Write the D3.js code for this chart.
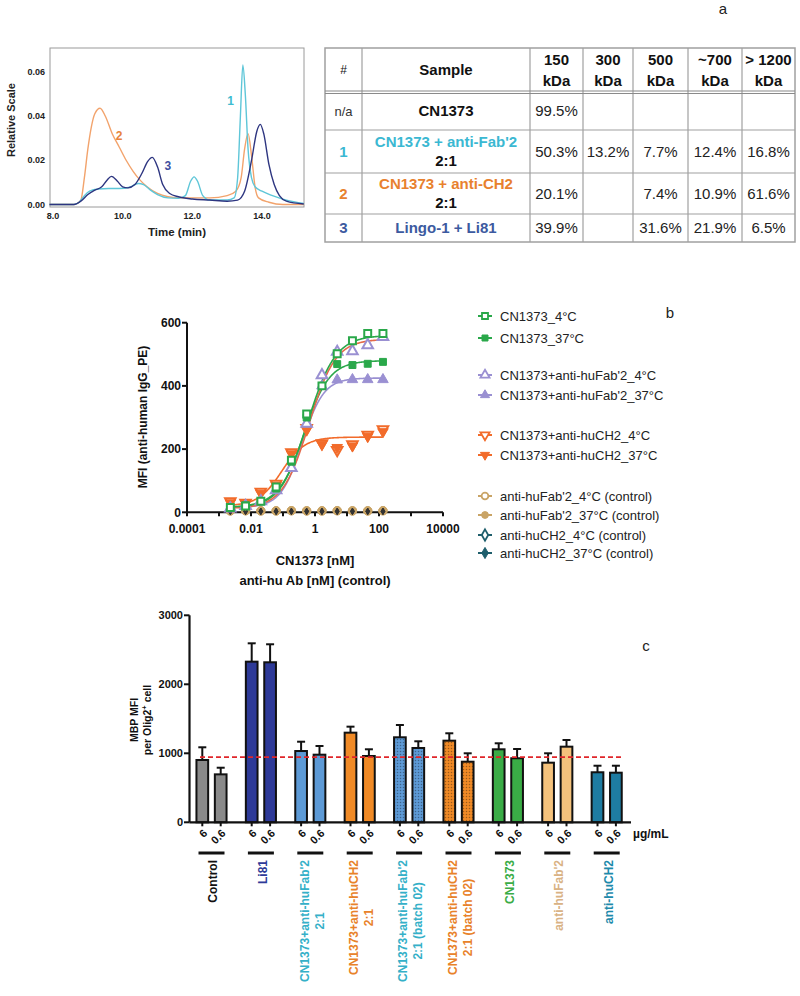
<!DOCTYPE html>
<html><head><meta charset="utf-8">
<script src="https://cdn.jsdelivr.net/npm/d3@7"></script>
<style>body{margin:0;background:#fff;} svg{display:block;font-family:Arial,"Liberation Sans",sans-serif;}</style>
</head><body><svg id="fig" width="800" height="996"></svg>
<script>
// ================= DATA =================
// Panel a: SEC chromatogram curves, [time(min), relative scale]
const secCurve1 = [[7.9,0],[8.6,0],[8.75,0.001],[8.9,0.004],[9.05,0.006],[9.3,0.007],[9.6,0.0072],[9.9,0.0072],[10.2,0.0078],[10.45,0.0095],[10.6,0.009],[10.8,0.0065],[11.0,0.0045],[11.3,0.003],[11.6,0.0028],[11.8,0.004],[11.95,0.0105],[12.05,0.0125],[12.15,0.0105],[12.3,0.004],[12.5,0.002],[13.0,0.002],[13.2,0.003],[13.3,0.012],[13.38,0.04],[13.45,0.063],[13.52,0.05],[13.6,0.025],[13.7,0.012],[13.8,0.008],[14.0,0.006],[14.3,0.004],[14.7,0.002],[15.2,0.0005]];
const secCurve2 = [[7.9,0],[8.6,0],[8.8,0.002],[8.9,0.012],[9.0,0.025],[9.1,0.035],[9.2,0.041],[9.35,0.0435],[9.5,0.040],[9.7,0.032],[9.9,0.026],[10.1,0.02],[10.3,0.015],[10.5,0.011],[10.7,0.008],[11.0,0.005],[11.3,0.0035],[11.6,0.003],[12.0,0.003],[12.5,0.003],[13.0,0.004],[13.25,0.006],[13.4,0.012],[13.5,0.025],[13.6,0.032],[13.7,0.022],[13.8,0.008],[13.9,0.003],[14.2,0.001],[14.6,0],[15.2,0]];
const secCurve3 = [[7.9,0],[8.6,0],[8.8,0.0015],[9.0,0.0045],[9.2,0.0065],[9.4,0.008],[9.55,0.011],[9.68,0.0127],[9.85,0.0105],[10.0,0.008],[10.15,0.0075],[10.35,0.009],[10.55,0.014],[10.72,0.0195],[10.85,0.0213],[11.0,0.017],[11.15,0.009],[11.35,0.005],[11.6,0.0035],[12.0,0.0025],[12.5,0.002],[13.0,0.0015],[13.3,0.002],[13.5,0.006],[13.7,0.02],[13.85,0.033],[13.95,0.0362],[14.05,0.032],[14.2,0.018],[14.35,0.009],[14.5,0.004],[14.7,0.0015],[15.2,0.0002]];
const secYTicks = [0, 0.02, 0.04, 0.06];
const secXTicks = [8, 10, 12, 14];
const secCurveLabels = [{t:"1",x:13.1,y:0.047},{t:"2",x:9.9,y:0.031},{t:"3",x:11.3,y:0.0175}];

// Panel a: table
const tableHeader = ["#", "Sample", "150\nkDa", "300\nkDa", "500\nkDa", "~700\nkDa", "> 1200\nkDa"];
const tableIds = ["n/a", "1", "2", "3"];
const tableSamples = [["CN1373"], ["CN1373 + anti-Fab'2", "2:1"], ["CN1373 + anti-CH2", "2:1"], ["Lingo-1 + Li81"]];
const table150 = ["99.5%", "50.3%", "20.1%", "39.9%"];
const table300 = ["", "13.2%", "", ""];
const table500 = ["", "7.7%", "7.4%", "31.6%"];
const table700 = ["", "12.4%", "10.9%", "21.9%"];
const table1200 = ["", "16.8%", "61.6%", "6.5%"];

// Panel b: binding curves
const concNM = [0.00226, 0.00677, 0.0203, 0.061, 0.183, 0.549, 1.65, 4.94, 14.8, 44.4, 133];
const bSeriesNames = ["CN1373_4°C", "CN1373_37°C", "CN1373+anti-huFab'2_4°C", "CN1373+anti-huFab'2_37°C", "CN1373+anti-huCH2_4°C", "CN1373+anti-huCH2_37°C", "anti-huFab'2_4°C (control)", "anti-huFab'2_37°C (control)", "anti-huCH2_4°C (control)", "anti-huCH2_37°C (control)"];
const mfiCN4    = [15, 20, 35, 80, 165, 311, 400, 502, 543, 566, 566];
const mfiCN37   = [15, 22, 35, 75, 160, 300, 400, 469, 466, 470, 476];
const mfiFab4   = [12, 20, 35, 70, 140, 280, 434, 508, 510, 529, 555];
const mfiFab37  = [15, 22, 35, 70, 140, 280, 400, 419, 420, 420, 420];
const mfiCH24   = [35, 30, 65, 90, 190, 267, 218, 197, 215, 245, 263];
const mfiCH237  = [30, 28, 60, 85, 185, 260, 215, 205, 210, 240, 255];
const mfiFabC4  = [5, 5, 4, 5, 5, 4, 5, 5, 4, 5, 5];
const mfiFabC37 = [4, 5, 5, 4, 5, 5, 4, 5, 5, 4, 5];
const mfiCH2C4  = [3, 3, 3, 3, 3, 3, 3, 3, 3, 3, 3];
const mfiCH2C37 = [3, 3, 3, 3, 3, 3, 3, 3, 3, 3, 3];
// 4-parameter logistic fit parameters
const fitBottom = [15, 15, 12, 15, 20, 20, 4, 4, 3, 3];
const fitTop    = [560, 480, 548, 425, 238, 238, 4, 4, 3, 3];
const fitEC50   = [0.6, 0.45, 0.65, 0.4, 0.09, 0.09, 1, 1, 1, 1];
const fitHill   = [1.0, 1.1, 1.05, 1.3, 1.2, 1.2, 1, 1, 1, 1];
const bYTicks = [0, 200, 400, 600];
const bXTicks = [0.0001, 0.01, 1, 100, 10000];
const bXTickLabels = ["0.0001", "0.01", "1", "100", "10000"];
const bXMinor = [0.001, 0.1, 10, 1000];

// Panel c: MBP MFI bars
const cGroups = ["Control", "Li81", "CN1373+anti-huFab'2\n2:1", "CN1373+anti-huCH2\n2:1", "CN1373+anti-huFab'2\n2:1 (batch 02)", "CN1373+anti-huCH2\n2:1 (batch 02)", "CN1373", "anti-huFab'2", "anti-huCH2"];
const cDoses = ["6", "0.6"];
const cMean6  = [903, 2328, 1033, 1299, 1232, 1183, 1058, 864, 725];
const cMean06 = [695, 2319, 980, 961, 1077, 878, 928, 1096, 719];
const cErr6   = [1087, 2594, 1168, 1386, 1410, 1290, 1145, 1000, 820];
const cErr06  = [791, 2580, 1106, 1058, 1174, 1000, 1062, 1193, 820];
const cRefLine = 945;
const cYTicks = [0, 1000, 2000, 3000];

// ================= STYLES =================
const C_CYAN = "#5ec6d8", C_ORANGE_L = "#f2a36c", C_NAVY = "#2d3580";
const secLabelColors = ["#3fbcd0", "#e8833a", "#3d4fa0"];
const tIdColors = ["#333", "#3bb8d2", "#e8812e", "#3c5aa0"];
const tSampleColors = ["#111", "#3bb8d2", "#e8812e", "#3c5aa0"];
const bColors = ["#2aa84a", "#2aa84a", "#9a90d2", "#9a90d2", "#f26b2a", "#f26b2a", "#c9a466", "#c9a466", "#1e5e6c", "#1e5e6c"];
const bShapes = [d3.symbolSquare, d3.symbolSquare, d3.symbolTriangle, d3.symbolTriangle, "tdown", "tdown", d3.symbolCircle, d3.symbolCircle, d3.symbolDiamond, d3.symbolDiamond];
const bOpen = [true, false, true, false, true, false, true, false, true, false];
const cFill = ["#8a8a8a", "#2e3a98", "#5d9ad6", "#f08a26", "#5d9ad6", "#f08a26", "#3aac46", "#f4c27c", "#1e7ca2"];
const cDotted = [false, false, false, false, true, true, false, false, false];
const cLabelColors = ["#111", "#2e3a98", "#35b0c8", "#e8822a", "#35b0c8", "#e8822a", "#3aac46", "#d9b284", "#1e8aab"];

const svg = d3.select("#fig");

// ================= PANEL a: chromatogram =================
{
  const x = d3.scaleLinear().domain([8, 14]).range([53, 262]);
  const y = d3.scaleLinear().domain([0, 0.06]).range([204.5, 71.7]);
  const g = svg.append("g");
  g.append("rect").attr("x", 50).attr("y", 48).attr("width", 254).attr("height", 159)
    .attr("fill", "none").attr("stroke", "#9a9a9a").attr("stroke-width", 1);
  const line = d3.line().x(d => x(d[0])).y(d => y(d[1])).curve(d3.curveMonotoneX);
  [secCurve2, secCurve1, secCurve3].forEach((c, i) => {
    const col = [C_ORANGE_L, C_CYAN, C_NAVY][i];
    g.append("path").attr("d", line(c)).attr("fill", "none").attr("stroke", col).attr("stroke-width", 1.4);
  });
  g.selectAll(".yt").data(secYTicks).join("text").attr("x", 45).attr("y", d => y(d)).attr("dy", "0.35em")
    .attr("text-anchor", "end").attr("font-size", 9).attr("font-weight", "bold").attr("fill", "#222").text(d => d.toFixed(2));
  g.selectAll(".xt").data(secXTicks).join("text").attr("x", d => x(d)).attr("y", 219)
    .attr("text-anchor", "middle").attr("font-size", 9).attr("font-weight", "bold").attr("fill", "#222").text(d => d.toFixed(1));
  g.append("text").attr("transform", "translate(15,120) rotate(-90)").attr("text-anchor", "middle")
    .attr("font-size", 11).attr("font-weight", "bold").attr("fill", "#222").text("Relative Scale");
  g.append("text").attr("x", 177).attr("y", 236).attr("text-anchor", "middle")
    .attr("font-size", 11.5).attr("font-weight", "bold").attr("fill", "#222").text("Time (min)");
  secCurveLabels.forEach((l, i) => {
    g.append("text").attr("x", x(l.x)).attr("y", y(l.y)).attr("dy", "0.35em").attr("text-anchor", "middle")
      .attr("font-size", 12).attr("font-weight", "bold").attr("fill", secLabelColors[i]).text(l.t);
  });
}

// ================= PANEL a: table =================
{
  const colX = [325, 362, 530, 583, 633, 688, 742, 795];
  const rowY = [48, 92, 130, 173, 214, 242];
  const g = svg.append("g");
  g.append("rect").attr("x", colX[0]).attr("y", rowY[0]).attr("width", colX[7] - colX[0]).attr("height", rowY[5] - rowY[0])
    .attr("fill", "#fff").attr("stroke", "#a0a0a0").attr("stroke-width", 1.5);
  colX.slice(1, -1).forEach(cx => g.append("line").attr("x1", cx).attr("x2", cx).attr("y1", rowY[0]).attr("y2", rowY[5]).attr("stroke", "#a0a0a0").attr("stroke-width", 1.2));
  rowY.slice(2, -1).forEach(ry => g.append("line").attr("x1", colX[0]).attr("x2", colX[7]).attr("y1", ry).attr("y2", ry).attr("stroke", "#a0a0a0").attr("stroke-width", 1.2));
  g.append("line").attr("x1", colX[0]).attr("x2", colX[7]).attr("y1", rowY[1] - 1).attr("y2", rowY[1] - 1).attr("stroke", "#8a8a8a").attr("stroke-width", 1.2);
  g.append("line").attr("x1", colX[0]).attr("x2", colX[7]).attr("y1", rowY[1] + 1.5).attr("y2", rowY[1] + 1.5).attr("stroke", "#8a8a8a").attr("stroke-width", 1.2);

  const cellText = (lines, cx, cy, opts) => {
    const lh = opts.lh || 20;
    lines.forEach((ln, i) => {
      g.append("text").attr("x", cx).attr("y", cy + (i - (lines.length - 1) / 2) * lh).attr("dy", "0.35em")
        .attr("text-anchor", "middle").attr("font-size", opts.size).attr("font-weight", opts.bold ? "bold" : "normal")
        .attr("fill", Array.isArray(opts.fill) ? opts.fill[i] : opts.fill).text(ln);
    });
  };
  tableHeader.forEach((h, i) => {
    const cx = (colX[i] + colX[i + 1]) / 2, cy = (rowY[0] + rowY[1]) / 2;
    cellText(h.split("\n"), cx, cy, {size: i === 0 ? 12 : 15, bold: i !== 0, fill: "#111", lh: 21});
  });
  const cols = [table150, table300, table500, table700, table1200];
  tableIds.forEach((id, r) => {
    const cy = (rowY[r + 1] + rowY[r + 2]) / 2;
    cellText([id], (colX[0] + colX[1]) / 2, cy, {size: r === 0 ? 13 : 15, bold: r !== 0, fill: tIdColors[r]});
    const s = tableSamples[r];
    cellText(s, (colX[1] + colX[2]) / 2, cy, {size: 15, bold: true, fill: s.map((_, k) => k === 0 ? tSampleColors[r] : "#111"), lh: 19});
    cols.forEach((col, c) => {
      cellText([col[r]], (colX[c + 2] + colX[c + 3]) / 2, cy, {size: 15, bold: false, fill: "#222"});
    });
  });
  svg.append("text").attr("x", 723).attr("y", 14).attr("text-anchor", "middle").attr("font-size", 15).attr("fill", "#222").text("a");
}

// ================= PANEL b: binding curves =================
{
  const x = d3.scaleLog().domain([1e-4, 1e4]).range([187, 443]);
  const y = d3.scaleLinear().domain([0, 600]).range([512.3, 322.7]);
  const g = svg.append("g");
  const allY = [mfiCN4, mfiCN37, mfiFab4, mfiFab37, mfiCH24, mfiCH237, mfiFabC4, mfiFabC37, mfiCH2C4, mfiCH2C37];
  const sym = (shape, size) => d3.symbol().type(shape === "tdown" ? d3.symbolTriangle : shape).size(size)();
  // fit lines
  const fitXs = d3.range(Math.log10(0.00226), Math.log10(133) + 0.001, 0.02).map(v => Math.pow(10, v));
  const fitOrder = [4, 3, 1, 2, 0];
  fitOrder.forEach(i => {
    const f = c => fitBottom[i] + (fitTop[i] - fitBottom[i]) / (1 + Math.pow(fitEC50[i] / c, fitHill[i]));
    g.append("path").attr("d", d3.line().x(c => x(c)).y(c => y(f(c)))(fitXs))
      .attr("fill", "none").attr("stroke", i === 2 ? "#e46a4a" : bColors[i]).attr("stroke-width", 1.6);
  });
  // axes
  g.append("line").attr("x1", 187).attr("x2", 187).attr("y1", y(600)).attr("y2", y(0)).attr("stroke", "#111").attr("stroke-width", 2);
  g.append("line").attr("x1", 187).attr("x2", 443).attr("y1", y(0)).attr("y2", y(0)).attr("stroke", "#111").attr("stroke-width", 2);
  bYTicks.forEach(t => {
    g.append("line").attr("x1", 182).attr("x2", 187).attr("y1", y(t)).attr("y2", y(t)).attr("stroke", "#111").attr("stroke-width", 2);
    g.append("text").attr("x", 181).attr("y", y(t)).attr("dy", "0.35em").attr("text-anchor", "end")
      .attr("font-size", 12).attr("font-weight", "bold").attr("fill", "#111").text(t);
  });
  bXTicks.concat(bXMinor).forEach(t => {
    g.append("line").attr("x1", x(t)).attr("x2", x(t)).attr("y1", y(0)).attr("y2", y(0) + 4).attr("stroke", "#111").attr("stroke-width", 2);
  });
  bXTicks.forEach((t, i) => {
    g.append("text").attr("x", x(t)).attr("y", 529).attr("dy", "0.35em").attr("text-anchor", "middle")
      .attr("font-size", 12).attr("font-weight", "bold").attr("fill", "#111").text(bXTickLabels[i]);
  });
  // markers
  const drawOrder = [6, 7, 8, 9, 4, 5, 3, 2, 1, 0];
  drawOrder.forEach(i => {
    const ctrl = i >= 6;
    const isDia = i >= 8;
    g.selectAll(null).data(concNM.map((c, k) => [c, allY[i][k]])).join("path")
      .attr("transform", d => `translate(${x(d[0])},${y(d[1])})${bShapes[i] === "tdown" ? " rotate(180)" : ""}`)
      .attr("d", sym(bShapes[i], isDia ? 12 : (ctrl ? 55 : 48)))
      .attr("fill", isDia ? "#333" : (bOpen[i] && !ctrl ? "#fff" : bColors[i]))
      .attr("stroke", isDia ? "#333" : bColors[i]).attr("stroke-width", bOpen[i] && !ctrl ? 2 : 1);
  });
  g.append("text").attr("transform", "translate(147,417) rotate(-90)").attr("text-anchor", "middle")
    .attr("font-size", 12).attr("font-weight", "bold").attr("fill", "#111").text("MFI (anti-human IgG_PE)");
  g.append("text").attr("x", 315).attr("y", 560).attr("text-anchor", "middle").attr("dy", "0.35em")
    .attr("font-size", 13).attr("font-weight", "bold").attr("fill", "#111").text("CN1373 [nM]");
  g.append("text").attr("x", 315).attr("y", 580).attr("text-anchor", "middle").attr("dy", "0.35em")
    .attr("font-size", 13).attr("font-weight", "bold").attr("fill", "#111").text("anti-hu Ab [nM] (control)");
  // legend
  const legY = [316, 338, 375, 395, 435, 455, 496, 515, 535, 553];
  bSeriesNames.forEach((n, i) => {
    const lg = g.append("g").attr("transform", `translate(485,${legY[i]})`);
    lg.append("line").attr("x1", -7).attr("x2", 7).attr("stroke", bColors[i]).attr("stroke-width", 2);
    lg.append("path").attr("d", sym(bShapes[i], 36)).attr("transform", bShapes[i] === "tdown" ? "rotate(180)" : null)
      .attr("fill", bOpen[i] ? "#fff" : bColors[i]).attr("stroke", bColors[i]).attr("stroke-width", bOpen[i] ? 1.8 : 1);
    lg.append("text").attr("x", 15).attr("dy", "0.35em").attr("font-size", 13).attr("fill", "#222").text(n);
  });
  svg.append("text").attr("x", 670).attr("y", 318).attr("text-anchor", "middle").attr("font-size", 15).attr("fill", "#222").text("b");
}

// ================= PANEL c: bars =================
{
  const y = d3.scaleLinear().domain([0, 3000]).range([822.3, 615.3]);
  const xg = d3.scalePoint().domain(cGroups).range([211.5, 606.7]);
  const xd = d3.scalePoint().domain(cDoses).range([-9.2, 9.2]);
  const bw = 11.7;
  const defs = svg.append("defs");
  cGroups.forEach((gname, i) => {
    if (!cDotted[i]) return;
    const p = defs.append("pattern").attr("id", "dots" + i).attr("patternUnits", "userSpaceOnUse").attr("width", 3).attr("height", 3);
    p.append("rect").attr("width", 3).attr("height", 3).attr("fill", cFill[i]);
    p.append("circle").attr("cx", 1.5).attr("cy", 1.5).attr("r", 0.75).attr("fill", d3.color(cFill[i]).darker(1.2));
  });
  const g = svg.append("g");
  const bars = [];
  cGroups.forEach((gname, i) => {
    bars.push({g: gname, i, dose: "6", v: cMean6[i], e: cErr6[i]});
    bars.push({g: gname, i, dose: "0.6", v: cMean06[i], e: cErr06[i]});
  });
  bars.forEach(b => {
    const cx = xg(b.g) + xd(b.dose);
    g.append("line").attr("x1", cx).attr("x2", cx).attr("y1", y(b.v)).attr("y2", y(b.e)).attr("stroke", "#111").attr("stroke-width", 2);
    g.append("line").attr("x1", cx - 4).attr("x2", cx + 4).attr("y1", y(b.e)).attr("y2", y(b.e)).attr("stroke", "#111").attr("stroke-width", 2);
  });
  g.selectAll(".bar").data(bars).join("rect")
    .attr("x", b => xg(b.g) + xd(b.dose) - bw / 2).attr("y", b => y(b.v))
    .attr("width", bw).attr("height", b => y(0) - y(b.v))
    .attr("fill", b => cDotted[b.i] ? `url(#dots${b.i})` : cFill[b.i])
    .attr("stroke", "#111").attr("stroke-width", 2);
  g.append("line").attr("x1", 200).attr("x2", 622).attr("y1", y(cRefLine)).attr("y2", y(cRefLine))
    .attr("stroke", "#e0262a").attr("stroke-width", 1.8).attr("stroke-dasharray", "5,3");
  g.append("line").attr("x1", 189.5).attr("x2", 189.5).attr("y1", y(3000)).attr("y2", y(0)).attr("stroke", "#111").attr("stroke-width", 2.2);
  g.append("line").attr("x1", 189.5).attr("x2", 631).attr("y1", y(0)).attr("y2", y(0)).attr("stroke", "#111").attr("stroke-width", 2.2);
  cYTicks.forEach(t => {
    g.append("line").attr("x1", 184).attr("x2", 189.5).attr("y1", y(t)).attr("y2", y(t)).attr("stroke", "#111").attr("stroke-width", 2);
    g.append("text").attr("x", 183).attr("y", y(t)).attr("dy", "0.35em").attr("text-anchor", "end")
      .attr("font-size", 11).attr("font-weight", "bold").attr("fill", "#111").text(t);
  });
  bars.forEach(b => {
    const cx = xg(b.g) + xd(b.dose);
    g.append("line").attr("x1", cx).attr("x2", cx).attr("y1", y(0)).attr("y2", y(0) + 4).attr("stroke", "#111").attr("stroke-width", 2);
    g.append("text").attr("transform", `translate(${cx + 3},${y(0) + 9}) rotate(-45)`).attr("text-anchor", "end").attr("dy", "0.35em")
      .attr("font-size", 11).attr("font-weight", "bold").attr("fill", "#111").text(b.dose);
  });
  g.append("text").attr("x", 633).attr("y", 834).attr("dy", "0.35em").attr("font-size", 12).attr("font-weight", "bold").attr("fill", "#111").text("µg/mL");
  cGroups.forEach((gname, i) => {
    const cx = xg(gname);
    g.append("line").attr("x1", cx - 13).attr("x2", cx + 13).attr("y1", 853).attr("y2", 853).attr("stroke", "#111").attr("stroke-width", 3);
    const lines = gname.split("\n");
    const lg = g.append("g");
    const texts = lines.map((ln) => lg.append("text").attr("text-anchor", "middle").attr("font-size", 12)
      .attr("font-weight", "bold").attr("fill", cLabelColors[i]).text(ln));
    const maxL = d3.max(texts, t => t.node().getComputedTextLength());
    const cy = 860 + maxL / 2;
    lg.attr("transform", `translate(${cx},${cy}) rotate(-90)`);
    texts.forEach((t, k) => t.attr("x", 0).attr("y", (k - (lines.length - 1) / 2) * 15 + 1.5 + 4.3));
  });
  g.append("text").attr("transform", "translate(138,720) rotate(-90)").attr("text-anchor", "middle")
    .attr("font-size", 10.5).attr("font-weight", "bold").attr("fill", "#111").text("MBP MFI");
  const t2 = g.append("text").attr("transform", "translate(151,720) rotate(-90)").attr("text-anchor", "middle")
    .attr("font-size", 10.5).attr("font-weight", "bold").attr("fill", "#111");
  t2.append("tspan").text("per Olig2");
  t2.append("tspan").attr("dy", -4).attr("font-size", 7.5).text("+");
  t2.append("tspan").attr("dy", 4).text(" cell");
  svg.append("text").attr("x", 646).attr("y", 651).attr("text-anchor", "middle").attr("font-size", 15).attr("fill", "#222").text("c");
}
</script></body></html>
